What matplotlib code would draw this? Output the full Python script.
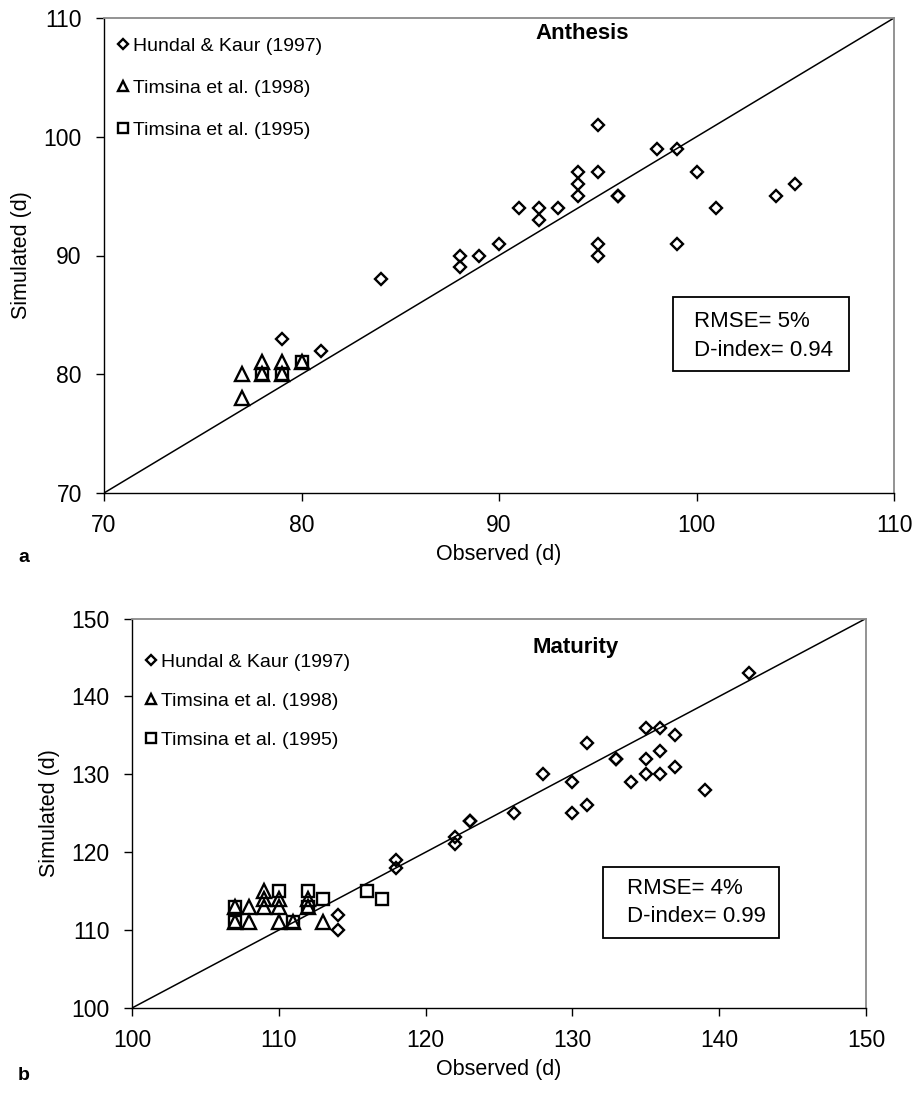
import matplotlib
matplotlib.use("Agg")
import matplotlib.pyplot as plt
from matplotlib.patches import Rectangle

plt.rcParams['font.family'] = ['Liberation Sans', 'DejaVu Sans']

# ---------------- data ----------------
# Panel a: Anthesis (observed, simulated)
a_hundal_obs = [79, 81, 84, 88, 88, 89, 90, 91, 92, 92, 93, 94, 94, 94, 95, 95, 95, 95, 96, 96, 98, 99, 99, 100, 101, 104, 105]
a_hundal_sim = [83, 82, 88, 90, 89, 90, 91, 94, 94, 93, 94, 97, 96, 95, 101, 97, 91, 90, 95, 95, 99, 99, 91, 97, 94, 95, 96]
a_t98_obs = [77, 77, 78, 78, 79, 79, 80]
a_t98_sim = [80, 78, 81, 80, 81, 80, 81]
a_t95_obs = [78, 79, 80]
a_t95_sim = [80, 80, 81]

# Panel b: Maturity
b_hundal_obs = [114, 114, 118, 118, 122, 122, 123, 123, 126, 128, 130, 130, 131, 131, 133, 133,
                134, 135, 135, 135, 136, 136, 136, 137, 137, 139, 142]
b_hundal_sim = [112, 110, 119, 118, 122, 121, 124, 124, 125, 130, 129, 125, 134, 126, 132, 132,
                129, 136, 132, 130, 136, 133, 130, 135, 131, 128, 143]
b_t98_obs = [107, 107, 108, 108, 109, 109, 109, 110, 110, 110, 111, 112, 112, 113]
b_t98_sim = [113, 111, 113, 111, 115, 114, 113, 114, 113, 111, 111, 114, 113, 111]
b_t95_obs = [107, 107, 110, 111, 112, 112, 113, 116, 117]
b_t95_sim = [113, 111, 115, 111, 115, 113, 114, 115, 114]

labels = ["Hundal & Kaur (1997)", "Timsina et al. (1998)", "Timsina et al. (1995)"]
a_ticks = [70, 80, 90, 100, 110]
b_ticks = [100, 110, 120, 130, 140, 150]

W, H = 917, 1098
fig = plt.figure(figsize=(W / 100, H / 100), dpi=100)


def px_axes(l, t, r, b):
    return fig.add_axes([l / W, 1 - b / H, (r - l) / W, (b - t) / H])


def style(ax, ticks):
    lo, hi = ticks[0], ticks[-1]
    ax.set_xlim(lo, hi)
    ax.set_ylim(lo, hi)
    ax.set_xticks(ticks)
    ax.set_yticks(ticks)
    for s in ['top', 'right']:
        ax.spines[s].set_color('#8a8a8a')
        ax.spines[s].set_linewidth(1.3)
    for s in ['left', 'bottom']:
        ax.spines[s].set_color('black')
        ax.spines[s].set_linewidth(1.0)
    ax.tick_params(direction='out', length=6, width=1, labelsize=16.5)
    ax.tick_params(axis='x', pad=9)
    ax.tick_params(axis='y', pad=10)
    ax.plot([lo, hi], [lo, hi], color='black', lw=1.1, zorder=1)


def scatter(ax, hx, hy, t8x, t8y, t5x, t5y):
    kw = dict(ls='none', mfc='none', mec='black', mew=1.7, clip_on=False, zorder=3)
    h1, = ax.plot(hx, hy, marker='D', ms=6.5, label=labels[0], **kw)
    h2, = ax.plot(t8x, t8y, marker='^', ms=9.5, label=labels[1], **kw)
    h3, = ax.plot(t5x, t5y, marker='s', ms=9.0, label=labels[2], **kw)
    return [h1, h2, h3]


def legend(ax, handles, y0, spacing):
    ax.legend(handles=handles, loc='upper left', bbox_to_anchor=(-0.008, y0), frameon=False,
              fontsize=14, handlelength=0.6, handletextpad=0.2, labelspacing=spacing,
              markerscale=0.75, borderaxespad=0.6)


# ---------- panel a ----------
axa = px_axes(104, 18, 894, 493)
style(axa, a_ticks)
ha = scatter(axa, a_hundal_obs, a_hundal_sim, a_t98_obs, a_t98_sim, a_t95_obs, a_t95_sim)
legend(axa, ha, 1.0, 1.25)
axa.set_xlabel("Observed (d)", fontsize=15.5, labelpad=5)
axa.set_ylabel("Simulated (d)", fontsize=15.5, labelpad=8)
axa.text(0.605, 0.968, "Anthesis", transform=axa.transAxes, fontsize=16, fontweight='bold',
         ha='center', va='center')
fig.add_artist(Rectangle((672.7 / W, 1 - 370.7 / H), (849.3 - 672.7) / W, (370.7 - 297.3) / H,
                         transform=fig.transFigure, fill=False, ec='black', lw=1.3))
fig.text(694 / W, 1 - 321.7 / H, "RMSE= 5%", fontsize=16, va='center', ha='left')
fig.text(694 / W, 1 - 350 / H, "D-index= 0.94", fontsize=16, va='center', ha='left')
fig.text(18 / W, 1 - 557 / H, "a", fontsize=14, fontweight='bold', va='center')

# ---------- panel b ----------
axb = px_axes(132, 618.5, 866, 1008)
style(axb, b_ticks)
hb = scatter(axb, b_hundal_obs, b_hundal_sim, b_t98_obs, b_t98_sim, b_t95_obs, b_t95_sim)
legend(axb, hb, 0.96, 1.1)
axb.set_xlabel("Observed (d)", fontsize=15.5, labelpad=5)
axb.set_ylabel("Simulated (d)", fontsize=15.5, labelpad=8)
axb.text(0.605, 0.925, "Maturity", transform=axb.transAxes, fontsize=16, fontweight='bold',
         ha='center', va='center')
fig.add_artist(Rectangle((602.7 / W, 1 - 938 / H), (779 - 602.7) / W, (938 - 866.7) / H,
                         transform=fig.transFigure, fill=False, ec='black', lw=1.3))
fig.text(626.7 / W, 1 - 888 / H, "RMSE= 4%", fontsize=16, va='center', ha='left')
fig.text(626.7 / W, 1 - 916 / H, "D-index= 0.99", fontsize=16, va='center', ha='left')
fig.text(18 / W, 1 - 1075 / H, "b", fontsize=14, fontweight='bold', va='center')

fig.savefig("out.png", dpi=100)
